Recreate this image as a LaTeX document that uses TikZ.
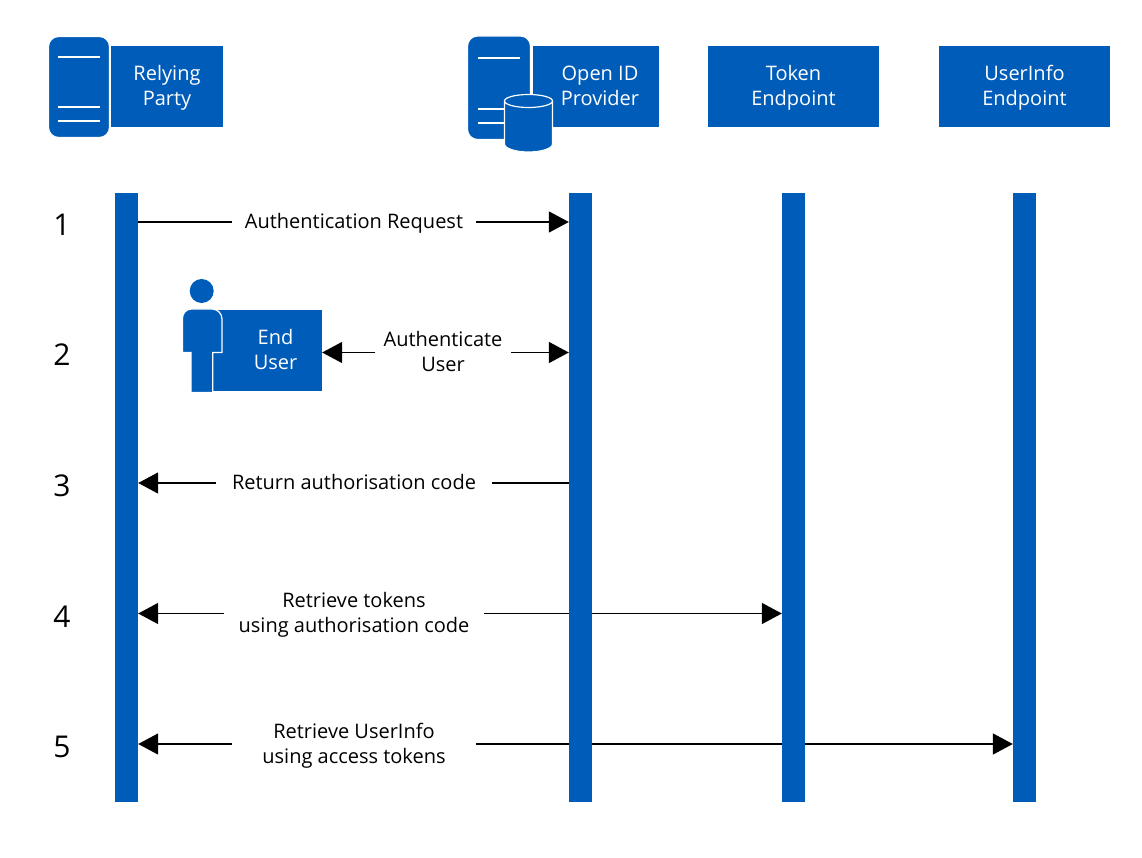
\documentclass[tikz,border=0pt]{standalone}
\usepackage{fontspec}
\setmainfont{Open Sans}
\usetikzlibrary{arrows.meta,calc,backgrounds}
\definecolor{msblue}{HTML}{005CB9}
\newcommand\lns{\rule[-6pt]{0pt}{25pt}}
\tikzset{
  x=1pt,y=-1pt,
  bar/.style={fill=msblue,draw=none,minimum width=23pt,minimum height=609pt,inner sep=0pt,anchor=north},
  box/.style={fill=msblue,draw=none,text=white,align=center,inner sep=0pt,font=\fontsize{20}{25}\selectfont},
  lab/.style={align=center,inner sep=0pt,font=\fontsize{20}{25}\selectfont},
  num/.style={inner sep=0pt,font=\fontsize{30}{30}\selectfont},
  msg/.style={line width=1.6pt,draw=black},
  tip/.style={-{Triangle[length=20pt,width=21pt,fill=black]}},
  ico/.style={fill=msblue,draw=white,line width=1.2pt},
  tick/.style={draw=white,line width=1.3pt}
}
\begin{document}
\begin{tikzpicture}
\useasboundingbox (0,0) rectangle (1142,858);
% header boxes
\node[box,minimum width=112pt,minimum height=81pt] (rp) at (167,87) {\lns Relying\\\lns Party};
\node[box,minimum width=126pt,minimum height=81pt] (op) at (595.5,87) {\hspace*{9pt}\lns Open ID\\\hspace*{9pt}\lns Provider};
\node[box,minimum width=171pt,minimum height=81pt] (te) at (793.5,87) {\lns Token\\\lns Endpoint};
\node[box,minimum width=171pt,minimum height=81pt] (ue) at (1024.5,87) {\lns UserInfo\\\lns Endpoint};
% server icon RP
\draw[ico,rounded corners=10pt] (48.5,36.5) rectangle (109.5,137.5);
\draw[tick] (58,57)--(100,57) (58,107)--(100,107) (58,121)--(100,121);
% server icon OP
\draw[ico,rounded corners=10pt] (467.5,36) rectangle (530.5,139.5);
\draw[tick] (478,58)--(520,58) (478,109)--(520,109) (478,123)--(520,123);
% database
\draw[ico] (504.5,101) -- (504.5,144) arc[start angle=180,end angle=0,x radius=24,y radius=8] -- (552.5,101);
\draw[ico] (528.5,101) ellipse[x radius=24,y radius=6.5];
% lifelines
\node[bar] (b1) at (126.5,193) {};
\node[bar] (b2) at (580.5,193) {};
\node[bar] (b3) at (793.5,193) {};
\node[bar] (b4) at (1024.5,193) {};
% end user
\node[box,minimum width=110pt,minimum height=81pt] (eu) at (267,350.5) {\hspace*{17pt}\lns End\\\hspace*{17pt}\lns User};
\fill[msblue] (201.7,291) circle (12pt);
\draw[ico] (191,392.5) -- (191,352.5) -- (182.5,352.5) -- (182.5,318) arc[start angle=180,end angle=270,radius=9] -- (212,309) arc[start angle=-90,end angle=0,radius=10] -- (222,352.5) -- (212.8,352.5) -- (212.8,392.5) -- cycle;
% numbers
\node[num] (n1) at (62,225) {1};
\node[num] (n2) at (62,355) {2};
\node[num] (n3) at (62,486) {3};
\node[num] (n4) at (62,616.5) {4};
\node[num] (n5) at (62,747) {5};
% labels
\node[lab,minimum width=244pt] (l1) at (354,222) {\lns Authentication Request};
\node[lab,minimum width=136pt] (l2) at (443,352.5) {\lns Authenticate\\\lns User};
\node[lab,minimum width=275pt] (l3) at (354,483) {\lns Return authorisation code};
\node[lab,minimum width=259pt] (l4) at (354,613.5) {\lns Retrieve tokens\\\lns using authorisation code};
\node[lab,minimum width=244pt] (l5) at (354,744) {\lns Retrieve UserInfo\\\lns using access tokens};
% messages
\begin{scope}[on background layer]
\draw[msg] (l1 -| b1.east) -- (l1.west);
\draw[msg,tip] (l1.east) -- (l1 -| b2.west);
\draw[msg,tip] (l2.west) -- (l2 -| eu.east);
\draw[msg,tip] (l2.east) -- (l2 -| b2.west);
\draw[msg,tip] (l3.west) -- (l3 -| b1.east);
\draw[msg] (l3.east) -- (l3 -| b2.west);
\draw[msg,tip] (l4.west) -- (l4 -| b1.east);
\draw[msg,tip] (l4.east) -- (l4 -| b3.west);
\draw[msg,tip] (l5.west) -- (l5 -| b1.east);
\draw[msg,tip] (l5.east) -- (l5 -| b4.west);
\end{scope}
\end{tikzpicture}
\end{document}
